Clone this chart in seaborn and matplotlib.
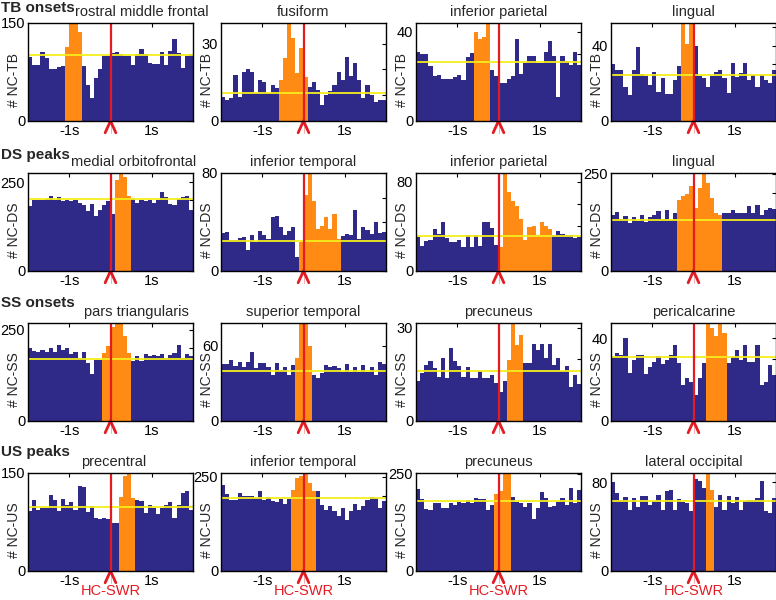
import numpy as np
import pandas as pd
import matplotlib.pyplot as plt
import seaborn as sns

sns.set_theme(style="white")
plt.rcParams['font.family'] = ['Liberation Sans', 'DejaVu Sans']

BLUE = '#2f2a88'
ORANGE = '#ff8a14'
YELLOW = '#f4ee1c'
RED = '#e31b23'

# 40 bins of 100 ms from -2 s to 2 s around the HC-SWR
bin_edges = np.linspace(-2, 2, 41)
bin_mid = (bin_edges[:-1] + bin_edges[1:]) / 2

row_names = ['TB onsets', 'DS peaks', 'SS onsets', 'US peaks']
row_ylabels = ['# NC-TB', '# NC-DS', '# NC-SS', '# NC-US']

titles = ['rostral middle frontal', 'fusiform', 'inferior parietal', 'lingual',
          'medial orbitofrontal', 'inferior temporal', 'inferior parietal', 'lingual',
          'pars triangularis', 'superior temporal', 'precuneus', 'pericalcarine',
          'precentral', 'inferior temporal', 'precuneus', 'lateral occipital']

# counts per bin
tb_rmf = [98, 85, 86, 106, 97, 80, 80, 82, 84, 114, 155, 155, 136, 84, 55, 35, 66, 80, 100, 100,
          104, 106, 102, 99, 100, 86, 102, 110, 102, 89, 88, 88, 106, 85, 107, 125, 104, 81, 100, 102]
tb_fus = [9.4, 8, 8.8, 18, 9.4, 19, 20, 19, 10.7, 16, 15.3, 10.7, 14, 12.7, 16, 24.5, 40, 32, 18.6, 28.4,
          17, 13, 15.3, 12, 6.2, 10, 11.8, 14, 19, 16, 25, 17.3, 22.5, 16, 8.8, 14, 10, 7.5, 8, 8]
tb_ipar = [31, 30, 30, 24.5, 20, 20.7, 19, 19, 19, 19.6, 20.7, 18.4, 28.7, 30.5, 40, 37, 37.7, 46, 23, 20,
           17, 17, 19, 20, 36.8, 21, 26, 29, 29, 26, 26, 31, 36, 29, 11, 29, 27, 25, 31, 25]
tb_ling = [30, 27, 27, 18, 14, 27, 39, 25, 24, 19, 26, 15.5, 22.7, 14.3, 14.3, 22, 29, 55, 41, 55,
           40, 24, 23, 18, 24, 26, 27, 23, 14.6, 30.7, 23.6, 25.7, 30.7, 21.8, 24.5, 18, 24.5, 21.8, 20, 27]

ds_mof = [183, 200, 200, 201, 203, 212, 201, 208, 197, 201, 197, 201, 192, 187, 169, 190, 155, 172, 187, 197,
          160, 257, 280, 266, 210, 203, 192, 201, 197, 200, 192, 201, 222, 208, 190, 185, 203, 208, 212, 173]
ds_itemp = [31, 32, 25, 25, 27, 27.6, 17.4, 29, 23.6, 33, 29.5, 26, 43.8, 45, 35.7, 29, 33, 35.7, 11.5, 24,
            62, 85, 57, 34, 36.5, 43.8, 34, 46.4, 26, 28.5, 30.3, 29, 49.7, 26, 36, 33.8, 30.3, 40, 31, 32]
ds_ipar = [30.4, 22.4, 26.6, 27.5, 37.8, 33.4, 44.3, 29.5, 26, 26, 27.5, 21.6, 32.5, 21.6, 31.9, 22.4, 43.7, 43.7, 38.4, 23.6,
           21.6, 92, 70.9, 62.9, 58.5, 46.7, 27.5, 39.3, 40.8, 31.9, 44.3, 40.2, 37.8, 31.9, 36.3, 33.4, 31.9, 32.5, 29.5, 30.4]
ds_ling = [145, 151, 134, 141, 124, 139, 128, 143, 126, 139, 145, 154, 134, 158, 132, 150, 182, 192, 197, 218,
           162, 214, 260, 226, 188, 148, 145, 150, 148, 156, 150, 150, 148, 167, 148, 171, 143, 156, 162, 160]

ss_ptri = [201, 192, 190, 195, 189, 200, 189, 209, 195, 200, 183, 189, 172, 190, 158, 129, 168, 168, 186, 204,
           258, 275, 275, 232, 185, 163, 179, 165, 183, 179, 181, 177, 183, 172, 181, 186, 209, 172, 183, 177]
ss_stemp = [45, 45, 48.5, 44, 47, 43, 47, 55, 42, 46, 46, 43, 36.6, 46, 40.6, 43, 36.6, 44.6, 50, 80,
            80, 60, 36.6, 34, 38, 44.6, 43, 44, 42, 39, 45, 39, 43, 39, 44.6, 39, 43, 36.6, 47, 45]
ss_prec = [13, 15.4, 18, 19.2, 17, 14.3, 20.3, 14, 23.5, 19.2, 17.6, 14.3, 17.3, 13.8, 13.8, 16, 13.8, 13.8, 14.9, 12.2,
           9.5, 13, 19.7, 33, 24.6, 27.8, 18.7, 18.7, 24.8, 23, 24.8, 20.3, 24.8, 18, 20.3, 16.2, 17.6, 11.1, 14.9, 11.9]
ss_peri = [31, 32.7, 32, 40, 23, 29.5, 32, 32, 22.6, 26.3, 28.7, 31.6, 27.4, 29.5, 32, 36.8, 27.9, 17.4, 20.6, 18.7,
           12.6, 20.6, 27.9, 49, 44.8, 40.8, 49, 42.4, 27.9, 31, 34.4, 29.5, 36.8, 28.7, 28.7, 36.8, 17.4, 19, 27, 22.3]

us_prec = [92, 108, 93, 96, 96, 117, 109, 92, 110, 101, 106, 94, 130, 129, 91, 99, 81, 79, 81, 79,
           74, 74, 113, 146, 155, 111, 109, 107, 89, 101, 96, 88, 96, 101, 106, 81, 101, 119, 123, 93]
us_itemp = [229, 203, 189, 189, 207, 198, 200, 200, 194, 211, 189, 196, 185, 182, 191, 179, 191, 216, 247, 253,
            265, 233, 211, 211, 176, 163, 172, 159, 147, 167, 136, 159, 179, 161, 172, 188, 196, 194, 167, 185]
us_precun = [211, 185, 160, 157, 174, 174, 163, 163, 174, 171, 177, 175, 182, 175, 188, 185, 185, 158, 171, 199,
             205, 260, 260, 191, 177, 175, 165, 175, 134, 162, 203, 188, 165, 167, 177, 188, 171, 214, 174, 208]
us_latocc = [80, 70, 64, 67, 55, 66, 58, 68, 68, 60, 63, 69, 55, 72, 73, 55, 65, 62, 61, 54,
             83, 81, 75, 92, 73, 58, 69, 55, 68, 61, 67, 55, 63, 64, 64, 66, 81, 54, 52, 66]

panel_counts = [tb_rmf, tb_fus, tb_ipar, tb_ling,
                ds_mof, ds_itemp, ds_ipar, ds_ling,
                ss_ptri, ss_stemp, ss_prec, ss_peri,
                us_prec, us_itemp, us_precun, us_latocc]

# first and last significant bin (orange)
sig_bins = [(9, 12), (14, 20), (14, 17), (17, 19),
            (21, 24), (19, 28), (20, 32), (16, 26),
            (18, 24), (18, 21), (22, 25), (23, 27),
            (22, 25), (17, 22), (19, 22), (23, 24)]

# mean level (yellow line)
mean_level = [101, 11, 26.4, 24.5,
              203, 24.4, 31.3, 132,
              170, 39.8, 16.2, 31.1,
              98.6, 194, 181, 63]

y_top = [150, 38, 44, 52,
         276, 80, 88, 252,
         268, 78, 31.6, 47.3,
         150, 260, 252, 88.5]

y_step = [50, 10, 10, 10,
          50, 20, 20, 50,
          50, 20, 10, 10,
          50, 50, 50, 20]

y_label_at = [150, 30, 40, 40,
              250, 80, 80, 250,
              250, 60, 30, 40,
              150, 250, 250, 80]

# horizontal title position (axes fraction); long titles in the first column sit to the right
title_x = [0.69, 0.5, 0.5, 0.5,
           0.64, 0.5, 0.5, 0.5,
           0.66, 0.5, 0.5, 0.5,
           0.52, 0.5, 0.5, 0.5]

fig = plt.figure(figsize=(7.76, 6.0), dpi=100)

col_left = [28, 221, 416, 611]
row_top = [23, 173, 323, 473]
row_label_y = [8, 155, 303, 452]
ax_w, ax_h = 165, 98
W, H = 776, 600

for i in range(16):
    r, c = divmod(i, 4)
    ax = fig.add_axes([col_left[c] / W, 1 - (row_top[r] + ax_h) / H, ax_w / W, ax_h / H])

    lo, hi = sig_bins[i]
    idx = np.arange(40)
    df = pd.DataFrame({'t': bin_mid, 'n': panel_counts[i],
                       'sig': (idx >= lo) & (idx <= hi)})
    sns.histplot(data=df, x='t', weights='n', hue='sig', bins=40, binrange=(-2, 2),
                 hue_order=[False, True], palette={False: BLUE, True: ORANGE},
                 multiple='layer', alpha=1, linewidth=0, legend=False, ax=ax)

    ax.axhline(mean_level[i], color=YELLOW, lw=1.3, zorder=4)
    ax.axvline(0, color=RED, lw=1.6, zorder=5)

    # chevron marking the ripple time under the axis
    tr = ax.get_xaxis_transform()
    ax.plot([-0.13, 0, 0.13], [-0.12, 0.0, -0.12], color=RED, lw=2,
            transform=tr, clip_on=False, zorder=6, solid_joinstyle='miter')
    ax.plot([0, 0], [0, -0.12], color=RED, lw=0.5, alpha=0.5, transform=tr, clip_on=False)

    ax.set_xlim(-2, 2)
    ax.set_ylim(0, y_top[i])
    ax.set_xticks([-1, 1])
    ax.set_xticklabels(['-1s', '1s'])
    yt = np.arange(0, y_top[i] + 0.01, y_step[i])
    ax.set_yticks(yt)
    lab = y_label_at[i]
    ax.set_yticklabels([('0' if v == 0 else (str(int(v)) if v == lab else '')) for v in yt])
    ax.tick_params(axis='both', direction='in', length=3, width=0.8, labelsize=10.5,
                   pad=2, top=True, right=True, colors='black')
    for s in ax.spines.values():
        s.set_color('black')
        s.set_linewidth(1.0)
        s.set_zorder(7)
    ax.set_xlabel('')
    ax.set_ylabel(row_ylabels[r], fontsize=10, labelpad=0)
    ax.yaxis.set_label_coords(-0.04, 0.42)
    ax.set_title(titles[i], fontsize=10.5, pad=5, x=title_x[i])

    if r == 3:
        ax.text(0, -0.2, 'HC-SWR', transform=tr, ha='center', va='center',
                color=RED, fontsize=10.5)

for r, name in enumerate(row_names):
    fig.text(1 / W, 1 - row_label_y[r] / H, name, fontsize=11, fontweight='bold',
             ha='left', va='center')

fig.savefig('out.png', dpi=100)
